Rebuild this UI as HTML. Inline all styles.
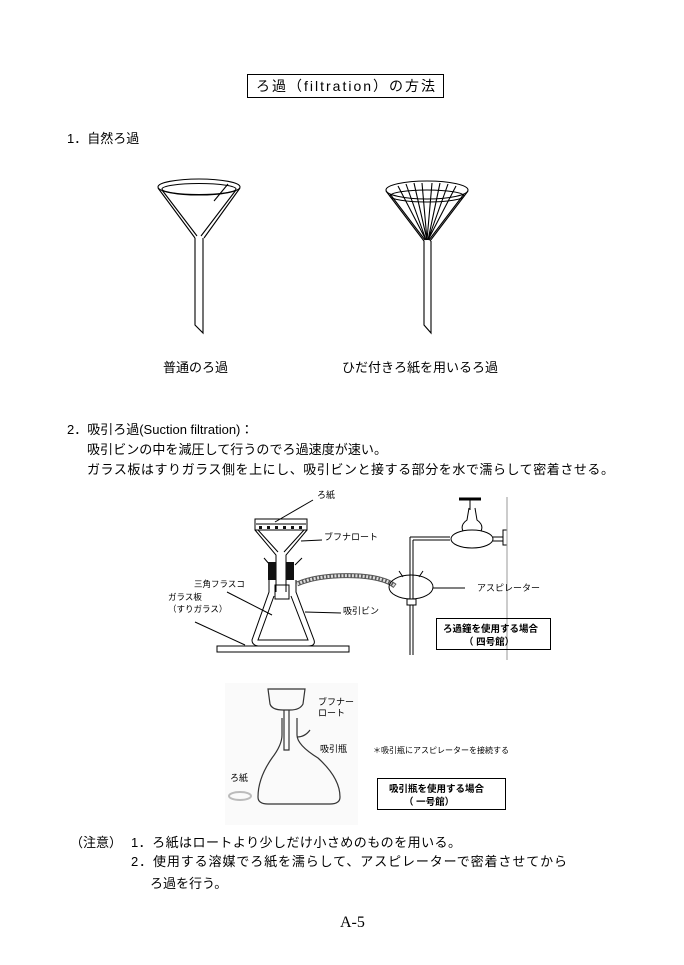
<!DOCTYPE html>
<html><head><meta charset="utf-8"><style>
html,body{margin:0;padding:0;background:#fff;}
svg{display:block;}
text{font-family:"Liberation Sans","Noto Sans CJK JP",sans-serif;fill:#000;}
.m{font-family:"Liberation Serif","Noto Serif CJK SC",serif;}
</style></head><body>
<svg width="684" height="965" viewBox="0 0 684 965" xmlns="http://www.w3.org/2000/svg">
<rect width="684" height="965" fill="#fff"/>
<rect x="247.5" y="74.5" width="196" height="23" fill="none" stroke="#000"/>
<text x="256" y="91" font-size="14" textLength="179">ろ過（filtration）の方法</text>
<text x="67" y="143" font-size="13">1．自然ろ過</text>

<g fill="none" stroke="#000" stroke-width="1.1">
<ellipse cx="199" cy="187" rx="41" ry="8"/>
<ellipse cx="199" cy="189" rx="37" ry="5.5"/>
<path d="M158,188 L195,238 M162,190 L197,236 M240,188 L204,238 M236,190 L201,236"/>
<path d="M228,184 L214,201"/>
<path d="M195,238 L195,325 L203,333 L203,238"/>
</g>
<g fill="none" stroke="#000" stroke-width="1.1">
<ellipse cx="427" cy="190" rx="41" ry="9"/>
<ellipse cx="427" cy="196" rx="37" ry="6"/>
<path d="M386,191 L424,241 M468,191 L430,241"/>
<path d="M398,186 L426,240 M406,184 L426,240 M414,183 L427,240 M422,183 L427,240 M432,183 L427,240 M440,183 L428,240 M448,184 L428,240 M456,186 L428,240 M390,194 L425,240 M464,194 L429,240"/>
<path d="M424,241 L424,325 L431,333 L431,241"/>
</g>
<text x="163" y="372" font-size="13">普通のろ過</text>
<text x="342" y="372" font-size="13">ひだ付きろ紙を用いるろ過</text>

<text x="67" y="434" font-size="13">2．吸引ろ過(Suction filtration)：</text>
<text x="87" y="454" font-size="13" textLength="300">吸引ビンの中を減圧して行うのでろ過速度が速い。</text>
<text x="87" y="474" font-size="13" textLength="527">ガラス板はすりガラス側を上にし、吸引ビンと接する部分を水で濡らして密着させる。</text>

<g fill="none" stroke="#000" stroke-width="1">
<rect x="255" y="519" width="52" height="11"/>
<line x1="256" y1="524" x2="306" y2="524"/>
<path d="M255,530 L276,555 L276,592 M307,530 L286,555 L286,592"/>
<path d="M258,530 L278,552 M304,530 L284,552"/>
<path d="M264,558 L270,565 M302,558 L295,565"/>
<path d="M269,580 L269,592 L252,640 Q252,646 260,646 L308,646 Q316,646 314,640 L296,592 L296,580"/>
<path d="M274,596 L258,640 L308,640 L291,596"/>
<rect x="275" y="585" width="14" height="14"/>
<rect x="217" y="646" width="132" height="6"/>
<path d="M297,584 Q320,574 360,576 Q385,578 395,586" stroke-width="5" stroke="#555"/>
<path d="M297,584 Q320,574 360,576 Q385,578 395,586" stroke-width="3" stroke="#ddd" stroke-dasharray="2 1.5"/>
<line x1="313" y1="500" x2="275" y2="522"/>
<line x1="322" y1="540" x2="301" y2="541"/>
<line x1="227" y1="592" x2="272" y2="615"/>
<line x1="195" y1="622" x2="245" y2="645"/>
<line x1="341" y1="613" x2="305" y2="612"/>
<path d="M410,537 L410,655 M413,540 L413,655"/>
<path d="M410,537 L450,537 M413,540 L450,540"/>
<ellipse cx="472" cy="539" rx="21" ry="9"/>
<path d="M463,531 Q460,525 467,520 L469,508 M481,531 Q484,525 477,520 L475,508"/>
<line x1="459" y1="499" x2="481" y2="499" stroke-width="3"/>
<line x1="470" y1="499" x2="470" y2="510"/>
<path d="M493,537 L503,537 M493,541 L503,541"/>
<rect x="503" y="530" width="4" height="15"/>
<line x1="507" y1="497" x2="507" y2="660" stroke="#999"/>
<ellipse cx="411" cy="587" rx="22" ry="12"/>
<path d="M403,577 L399,571 M419,577 L423,571"/>
<rect x="407" y="599" width="9" height="6" fill="#fff"/>
<line x1="433" y1="588" x2="465" y2="588"/>
</g>
<rect x="268" y="562" width="8" height="18" fill="#111"/>
<rect x="286" y="562" width="8" height="18" fill="#111"/>
<g fill="#111">
<rect x="259" y="526" width="3" height="3"/><rect x="267" y="526" width="3" height="3"/><rect x="275" y="526" width="3" height="3"/><rect x="283" y="526" width="3" height="3"/><rect x="291" y="526" width="3" height="3"/><rect x="299" y="526" width="3" height="3"/>
</g>
<text x="317" y="498" font-size="9">ろ紙</text>
<text x="324" y="540" font-size="9">ブフナロート</text>
<text x="194" y="587" font-size="8.5">三角フラスコ</text>
<text x="168" y="600" font-size="8.5">ガラス板</text>
<text x="168" y="612" font-size="8.5">（すりガラス）</text>
<text x="343" y="614" font-size="9">吸引ビン</text>
<text x="477" y="591" font-size="9">アスピレーター</text>
<rect x="436.5" y="618.5" width="114" height="31" fill="none" stroke="#000"/>
<text x="443" y="632" font-size="9.5" font-weight="bold">ろ過鐘を使用する場合</text>
<text x="464" y="645" font-size="9.5" font-weight="bold">（ 四号館）</text>

<rect x="225" y="683" width="133" height="142" fill="#fafafa"/>
<g fill="none" stroke="#333" stroke-width="1.2">
<path d="M268,689 L305,689 L303,704 Q300,710 290,710 L283,710 Q272,710 270,704 Z"/>
<path d="M284,710 L284,750 L289,750 L289,710"/>
<path d="M282,718 L282,735 Q282,745 272,758 Q258,778 258,797 Q258,804 268,804 L330,804 Q340,804 340,797 Q340,778 318,758 Q297,745 297,735 L297,718"/>
<path d="M297,737 Q305,737 310,730"/>
<ellipse cx="240" cy="796" rx="11" ry="4" stroke="#bbb" stroke-width="2"/>
</g>
<text x="318" y="705" font-size="9">ブフナー</text>
<text x="318" y="716" font-size="9">ロート</text>
<text x="320" y="752" font-size="9">吸引瓶</text>
<text x="230" y="781" font-size="9">ろ紙</text>
<text x="373" y="753" font-size="8">＊吸引瓶にアスピレーターを接続する</text>
<rect x="377.5" y="778.5" width="128" height="31" fill="none" stroke="#000"/>
<text x="389" y="792" font-size="9.5" font-weight="bold">吸引瓶を使用する場合</text>
<text x="404" y="805" font-size="9.5" font-weight="bold">（ 一号館）</text>

<text x="70" y="847" font-size="13">（注意）</text>
<text x="131" y="847" font-size="13" textLength="330">1．ろ紙はロートより少しだけ小さめのものを用いる。</text>
<text x="131" y="866" font-size="13" textLength="436">2．使用する溶媒でろ紙を濡らして、アスピレーターで密着させてから</text>
<text x="150" y="888" font-size="13">ろ過を行う。</text>
<text x="340" y="927" font-size="16" class="m">A-5</text>
</svg>
</body></html>
